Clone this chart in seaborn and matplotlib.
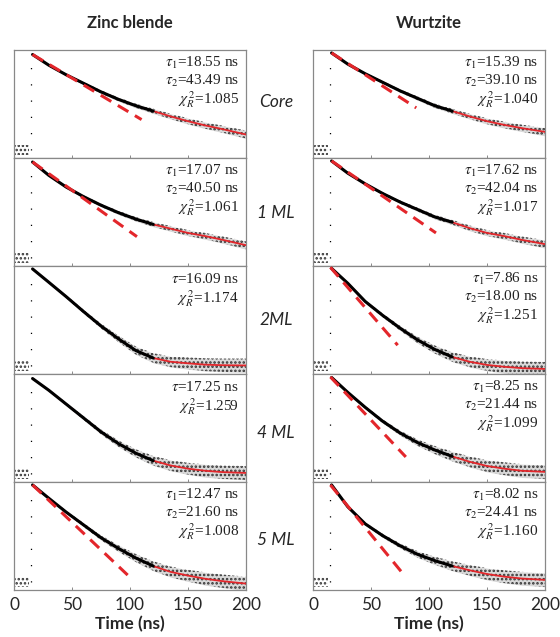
import numpy as np
import matplotlib
matplotlib.use('Agg')
import matplotlib.pyplot as plt
import seaborn as sns

# time axis of the decay curves (ns)
time_ns = [16, 30, 45, 60, 75, 90, 105, 120, 135, 150, 165, 180, 200]

# log10 counts (panel top ~ 4.05)
zb_core = [3.88, 3.48, 3.12, 2.80, 2.48, 2.20, 1.96, 1.76, 1.56, 1.38, 1.22, 1.08, 0.88]
zb_1ml = [3.90, 3.40, 2.96, 2.60, 2.28, 2.00, 1.76, 1.56, 1.40, 1.24, 1.12, 0.98, 0.78]
zb_2ml = [3.94, 3.44, 2.90, 2.34, 1.80, 1.32, 0.88, 0.60, 0.46, 0.40, 0.35, 0.33, 0.32]
zb_4ml = [3.88, 3.44, 2.92, 2.40, 1.88, 1.44, 1.08, 0.80, 0.62, 0.50, 0.42, 0.37, 0.34]
zb_5ml = [3.94, 3.44, 2.92, 2.44, 1.96, 1.56, 1.20, 0.90, 0.68, 0.54, 0.42, 0.33, 0.24]

wz_core = [3.94, 3.52, 3.16, 2.84, 2.52, 2.24, 1.96, 1.76, 1.56, 1.38, 1.24, 1.12, 0.98]
wz_1ml = [3.94, 3.48, 3.08, 2.72, 2.40, 2.12, 1.84, 1.64, 1.42, 1.24, 1.12, 0.98, 0.82]
wz_2ml = [3.96, 3.40, 2.72, 2.20, 1.72, 1.28, 0.92, 0.64, 0.46, 0.34, 0.27, 0.22, 0.19]
wz_4ml = [3.92, 3.36, 2.80, 2.28, 1.84, 1.48, 1.20, 0.96, 0.76, 0.60, 0.50, 0.42, 0.38]
wz_5ml = [3.94, 3.12, 2.48, 2.04, 1.66, 1.34, 1.10, 0.90, 0.74, 0.60, 0.50, 0.43, 0.38]

# half width of the scattered counts around the curve
spread_slow = [0.02, 0.03, 0.04, 0.05, 0.06, 0.07, 0.08, 0.09, 0.10, 0.11, 0.12, 0.13, 0.15]
spread_fast = [0.02, 0.03, 0.05, 0.07, 0.09, 0.12, 0.15, 0.18, 0.20, 0.22, 0.24, 0.25, 0.26]

# background before the pulse
pre_t = [0, 13]
pre_lo = [0.12, 0.12]
pre_hi = [0.50, 0.50]

# initial single-exponential slope (dashed red)
zb_dash = [([16, 110], [3.88, 1.44]), ([16, 106], [3.90, 1.10]), None, None,
           ([16, 98], [3.94, 0.56])]
wz_dash = [([16, 89], [3.94, 1.88]), ([16, 106], [3.94, 1.24]), ([15, 73], [4.0, 1.08]),
           ([15, 80], [3.94, 0.94]), ([15, 77], [3.94, 0.64])]

shell = ['Core', '1 ML', '2ML', '4 ML', '5 ML']
zb_curves = [zb_core, zb_1ml, zb_2ml, zb_4ml, zb_5ml]
wz_curves = [wz_core, wz_1ml, wz_2ml, wz_4ml, wz_5ml]
zb_spread = [spread_slow, spread_slow, spread_fast, spread_fast, spread_fast]
wz_spread = [spread_slow, spread_slow, spread_fast, spread_fast, spread_fast]

chi = r'$\chi_R^{\,2}$'
zb_text = [
    [r'$\tau_{\mathit{1}}$=18.55 ns', r'$\tau_{\mathit{2}}$=43.49 ns', chi + '=1.085'],
    [r'$\tau_{\mathit{1}}$=17.07 ns', r'$\tau_{\mathit{2}}$=40.50 ns', chi + '=1.061'],
    [r'$\tau$=16.09 ns', chi + '=1.174'],
    [r'$\tau$=17.25 ns', chi + '=1.259'],
    [r'$\tau_{\mathit{1}}$=12.47 ns', r'$\tau_{\mathit{2}}$=21.60 ns', chi + '=1.008'],
]
wz_text = [
    [r'$\tau_{\mathit{1}}$=15.39 ns', r'$\tau_{\mathit{2}}$=39.10 ns', chi + '=1.040'],
    [r'$\tau_{\mathit{1}}$=17.62 ns', r'$\tau_{\mathit{2}}$=42.04 ns', chi + '=1.017'],
    [r'$\tau_{\mathit{1}}$=7.86 ns', r'$\tau_{\mathit{2}}$=18.00 ns', chi + '=1.251'],
    [r'$\tau_{\mathit{1}}$=8.25 ns', r'$\tau_{\mathit{2}}$=21.44 ns', chi + '=1.099'],
    [r'$\tau_{\mathit{1}}$=8.02 ns', r'$\tau_{\mathit{2}}$=24.41 ns', chi + '=1.160'],
]

sns.set_theme(style='white')
plt.rcParams['font.family'] = ['Lato', 'DejaVu Sans']
plt.rcParams['mathtext.fontset'] = 'stix'
plt.rcParams['hatch.linewidth'] = 1.2

red = '#e3262b'
fig, axes = plt.subplots(5, 2, figsize=(5.6, 6.37), dpi=100, sharex=True,
                         gridspec_kw={'hspace': 0, 'wspace': 0.289})
fig.subplots_adjust(left=14 / 560, right=545 / 560, top=1 - 50 / 637, bottom=1 - 590 / 637)

t = np.array(time_ns)
for col, (curves, spreads, dashes, texts) in enumerate(
        [(zb_curves, zb_spread, zb_dash, zb_text), (wz_curves, wz_spread, wz_dash, wz_text)]):
    for row in range(5):
        ax = axes[row, col]
        y = np.array(curves[row])
        s = np.array(spreads[row])
        # scattered photon counts: speckled band + light shade
        ax.fill_between(t, y - s, y + s, color='black', alpha=0.15, lw=0, zorder=2)
        ax.fill_between(t, y - s, y + s, facecolor='none', edgecolor='#333333', hatch='....',
                        lw=0, zorder=2)
        ax.fill_between(pre_t, pre_lo, pre_hi, facecolor='none', edgecolor='#333333',
                        hatch='....', lw=0, zorder=2)
        ax.vlines(14.5, 0.3, y[0], color='black', lw=0.9, linestyles=(0, (1, 12)), zorder=2)
        sns.lineplot(x=t, y=y, ax=ax, color=red, lw=1.3, zorder=3)
        dense = t <= 120
        sns.lineplot(x=t[dense], y=y[dense], ax=ax, color='black', lw=2.2, zorder=4)
        if dashes[row] is not None:
            dx, dy = dashes[row]
            sns.lineplot(x=dx, y=dy, ax=ax, color=red, lw=2.2, linestyle=(0, (4, 2.5)), zorder=5)
        ys = [0.88, 0.71, 0.54] if len(texts[row]) == 3 else [0.88, 0.70]
        for txt, yy in zip(texts[row], ys):
            ax.text(0.97, yy, txt, transform=ax.transAxes, ha='right', va='center',
                    fontsize=11, family='Liberation Serif', color='#222222', zorder=6)
        ax.set_xlim(0, 200)
        ax.set_ylim(0, 4.05)
        ax.set_yticks([])
        ax.set_xticks([0, 50, 100, 150, 200])
        ax.tick_params(axis='x', direction='in', length=2.5, width=0.6, color='#777777',
                       labelsize=12.5, pad=5, bottom=True)
        ax.set_ylabel('')
        for sp in ax.spines.values():
            sp.set_color('#888888')
            sp.set_linewidth(0.9)
    axes[4, col].set_xlabel('Time (ns)', fontsize=12.5, fontweight='bold', labelpad=2)

for row, yp in enumerate([102, 213, 320, 433, 540]):
    fig.text(276 / 560, 1 - yp / 637, shell[row], ha='center', va='center',
             fontsize=12.5, style='italic')

fig.text(130 / 560, 1 - 23 / 637, 'Zinc blende', ha='center', va='center',
         fontsize=12, fontweight='bold')
fig.text(429 / 560, 1 - 23 / 637, 'Wurtzite', ha='center', va='center',
         fontsize=12, fontweight='bold')

fig.savefig('out.png', dpi=100)
